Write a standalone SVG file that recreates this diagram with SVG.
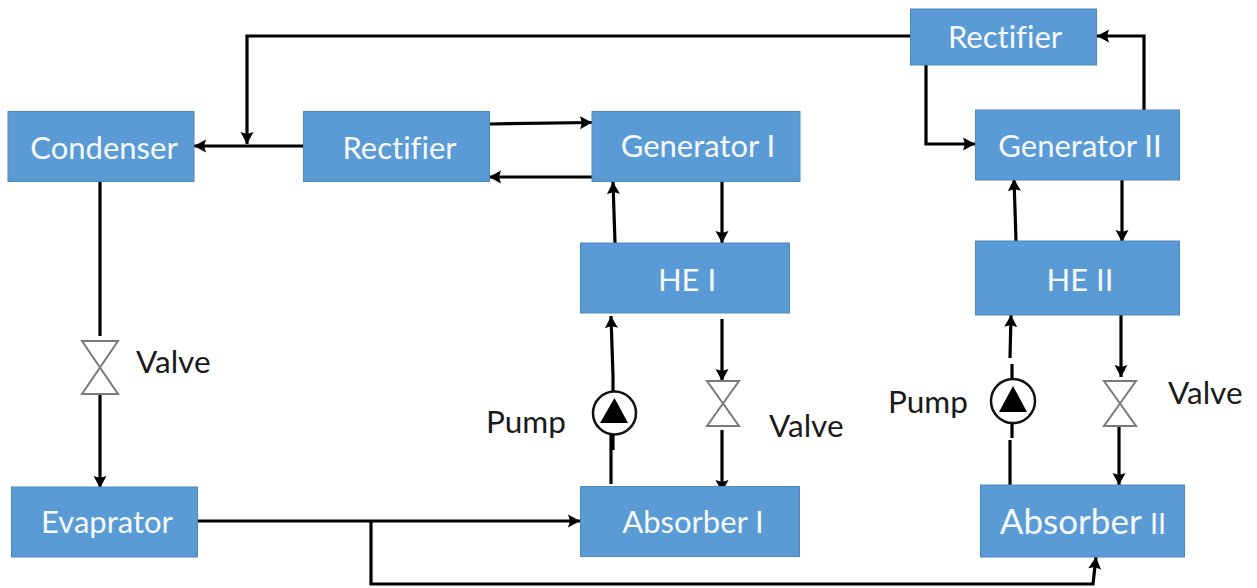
<svg xmlns="http://www.w3.org/2000/svg" width="1257" height="588" viewBox="0 0 1257 588">
<style>
.b{fill:#5b9bd5;stroke:#4f88bb;stroke-width:1}
.t{font-family:Lato,"Liberation Sans",sans-serif;font-size:31px;font-weight:400;fill:#f4f9fd;text-anchor:middle;font-variant-ligatures:none}
.l{font-family:Lato,"Liberation Sans",sans-serif;font-size:31.500px;fill:#1a1a1a;font-variant-ligatures:none}
.c{fill:none;stroke:#000;stroke-width:3.200}
.a{marker-end:url(#h)}
.v{fill:#fff;stroke:#7a7a7a;stroke-width:2}
</style>
<defs>
<marker id="h" markerUnits="userSpaceOnUse" markerWidth="14" markerHeight="14" refX="12" refY="7" orient="auto"><path d="M0 0.500L12 7L0 13.500L2 7Z" fill="#000"/></marker>
</defs>
<rect width="1257" height="588" fill="#fff"/>
<g id="connectors">
<path class="c a" d="M910 36H247V144"/>
<path class="c a" d="M303 146H194"/>
<path class="c a" d="M489 124L592 122.500"/>
<path class="c a" d="M592 177H489"/>
<path class="c a" d="M615 243L613 182"/>
<path class="c a" d="M722 181V243"/>
<path class="c a" d="M613 376L611 316"/>
<path class="c" d="M613 376V392"/>
<path class="c a" d="M722 319V381"/>
<path class="c" d="M611 484V430"/>
<path class="c" d="M613 430V450"/>
<path class="c a" d="M722 430V492"/>
<path class="c a" d="M197 521H580"/>
<path class="c a" d="M371 521V584H1093L1096 557"/>
<path class="c" d="M100 181V336"/>
<path class="c a" d="M100 388V488"/>
<path class="c a" d="M926 62V144H975"/>
<path class="c a" d="M1144 110V36H1097"/>
<path class="c a" d="M1016 241L1014 179"/>
<path class="c a" d="M1122 180V242"/>
<path class="c a" d="M1010 358L1011 315"/>
<path class="c" d="M1012 364V382"/>
<path class="c" d="M1012 420V438"/>
<path class="c" d="M1010 440V485"/>
<path class="c a" d="M1121 315V377"/>
<path class="c a" d="M1119 422V485"/>
</g>
<g id="condenser"><rect class="b" x="8" y="111.500" width="186" height="70"/><text class="t" x="104" y="159">Condenser</text></g>
<g id="rectifier-1"><rect class="b" x="303.500" y="111.500" width="186" height="70"/><text class="t" x="399.500" y="159">Rectifier</text></g>
<g id="generator-1"><rect class="b" x="592" y="111.500" width="208" height="70"/><text class="t" x="698" y="157">Generator I</text></g>
<g id="he-1"><rect class="b" x="580.500" y="243" width="209" height="70"/><text class="t" x="687" y="291">HE I</text></g>
<g id="absorber-1"><rect class="b" x="580.500" y="486.500" width="219" height="70"/><text class="t" x="693" y="533">Absorber I</text></g>
<g id="evaprator"><rect class="b" x="11.500" y="487" width="186" height="70"/><text class="t" x="107" y="533">Evaprator</text></g>
<g id="rectifier-2"><rect class="b" x="910.500" y="9" width="186" height="56"/><text class="t" x="1005" y="48">Rectifier</text></g>
<g id="generator-2"><rect class="b" x="975.500" y="110" width="204" height="70"/><text class="t" x="1080" y="157">Generator II</text></g>
<g id="he-2"><rect class="b" x="975.500" y="241" width="204" height="74"/><text class="t" x="1080" y="291">HE II</text></g>
<g id="absorber-2"><rect class="b" x="980.500" y="485" width="204" height="72"/><text class="t" x="1083" y="534" style="font-size:35px;font-weight:400">Absorber <tspan style="font-size:29px">II</tspan></text></g>
<g id="valve-1"><path class="v" d="M82 341H118L82 394H118Z"/><text class="l" x="136" y="373">Valve</text></g>
<g id="valve-2"><path class="v" d="M707 381H739L707 426H739Z"/><text class="l" x="769" y="437">Valve</text></g>
<g id="valve-3"><path class="v" d="M1104 381H1136L1104 426H1136Z"/><text class="l" x="1168" y="404">Valve</text></g>
<g id="pump-1"><circle cx="614.500" cy="413" r="21.500" fill="#fff" stroke="#111" stroke-width="2.500"/><path d="M600 423L614.500 398L628 423Z" fill="#000"/><text class="l" x="486" y="433">Pump</text></g>
<g id="pump-2"><circle cx="1013" cy="401" r="22" fill="#fff" stroke="#111" stroke-width="2.500"/><path d="M999 412L1013 386L1027 412Z" fill="#000"/><text class="l" x="888" y="413">Pump</text></g>
</svg>
